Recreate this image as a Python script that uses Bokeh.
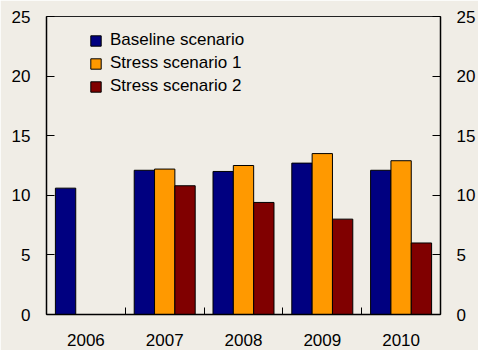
from bokeh.plotting import figure
from bokeh.models import ColumnDataSource, FixedTicker, LinearAxis, Legend, LegendItem, Range1d
from bokeh.embed import file_html
from bokeh.resources import INLINE

# Data
years = ["2006", "2007", "2008", "2009", "2010"]
baseline = [10.6, 12.1, 12.0, 12.7, 12.1]
stress1 = [None, 12.2, 12.5, 13.5, 12.9]
stress2 = [None, 10.8, 9.4, 8.0, 6.0]
y_ticks = [0, 5, 10, 15, 20, 25]

series_names = ["Baseline scenario", "Stress scenario 1", "Stress scenario 2"]
colors = ["#000080", "#FF9900", "#800000"]
bar_w = 0.258
offsets = [-bar_w, 0.0, bar_w]

BG = "#F0EDE6"
FONT = "Liberation Sans"

p = figure(width=478, height=350, output_backend="svg", toolbar_location=None,
           x_range=Range1d(0, 5), y_range=Range1d(0, 25),
           min_border_left=46, min_border_right=38, min_border_top=16, min_border_bottom=36,
           background_fill_color=BG, border_fill_color=BG)
p.xgrid.visible = False
p.ygrid.visible = False
p.outline_line_color = "#222222"
p.outline_line_width = 1

renderers = []
for vals, off, col in zip([baseline, stress1, stress2], offsets, colors):
    xs = [i + 0.5 + off for i, v in enumerate(vals) if v is not None]
    tops = [v for v in vals if v is not None]
    src = ColumnDataSource(dict(x=xs, top=tops))
    r = p.vbar(x="x", top="top", width=bar_w, bottom=0, source=src,
               fill_color=col, line_color="black", line_width=1)
    renderers.append(r)

# x axis
xa = p.xaxis[0]
xa.ticker = FixedTicker(ticks=[i + 0.5 for i in range(len(years))],
                        minor_ticks=[i for i in range(1, len(years))])
xa.major_label_overrides = {i + 0.5: y for i, y in enumerate(years)}
xa.major_tick_in = 0
xa.major_tick_out = 0
xa.minor_tick_in = 7
xa.minor_tick_out = 0
xa.minor_tick_line_color = "black"
xa.axis_line_color = "black"
xa.axis_line_width = 1.5
xa.major_label_standoff = 19
xa.major_label_text_font = FONT
xa.major_label_text_font_size = "17px"
xa.major_label_text_color = "black"

# left y axis
ya = p.yaxis[0]
ya.ticker = FixedTicker(ticks=y_ticks)
ya.major_tick_in = 8
ya.major_tick_out = 0
ya.minor_tick_in = 0
ya.minor_tick_out = 0
ya.axis_line_color = "black"
ya.axis_line_width = 1.5
ya.major_label_standoff = 16
ya.major_label_text_font = FONT
ya.major_label_text_font_size = "17px"
ya.major_label_text_color = "black"

# right y axis
ra = LinearAxis(ticker=FixedTicker(ticks=y_ticks))
ra.major_tick_in = 8
ra.major_tick_out = 0
ra.minor_tick_in = 0
ra.minor_tick_out = 0
ra.axis_line_color = "black"
ra.axis_line_width = 1.5
ra.major_label_standoff = 16
ra.major_label_text_font = FONT
ra.major_label_text_font_size = "17px"
ra.major_label_text_color = "black"
p.add_layout(ra, "right")

legend = Legend(items=[LegendItem(label=n, renderers=[r]) for n, r in zip(series_names, renderers)],
                location=(43, 218))
legend.background_fill_alpha = 0
legend.border_line_alpha = 0
legend.glyph_width = 13
legend.glyph_height = 13
legend.label_standoff = 8
legend.spacing = 3
legend.padding = 0
legend.margin = 0
legend.label_text_font = FONT
legend.label_text_font_size = "17px"
legend.label_text_color = "black"
p.add_layout(legend)

open("out.html", "w").write(file_html(p, INLINE))
